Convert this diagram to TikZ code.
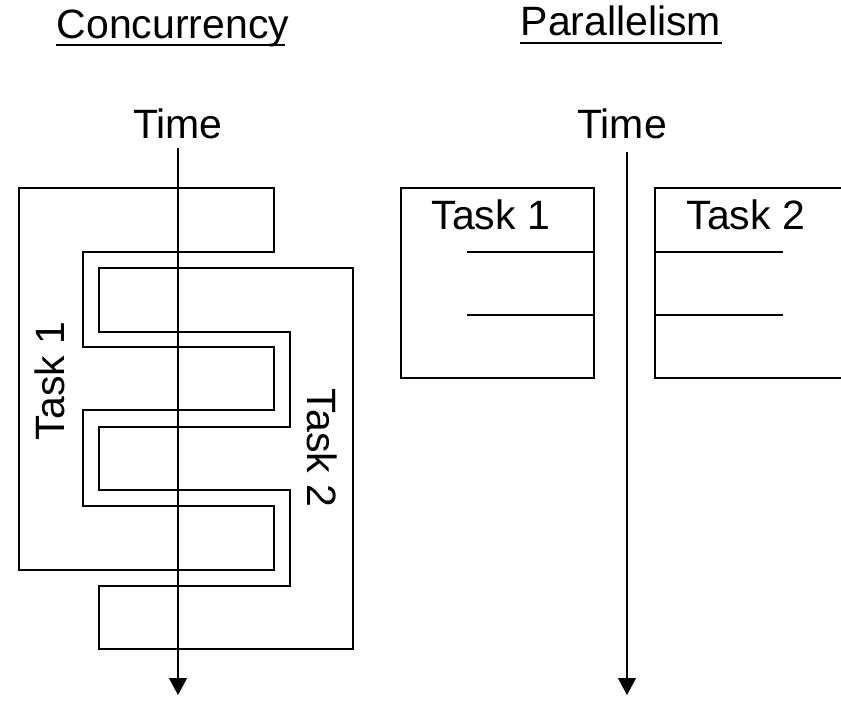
\documentclass[tikz,border=0pt]{standalone}
\usepackage{fontspec}
\setmainfont{Liberation Sans}
\usetikzlibrary{arrows.meta}
\begin{document}
\begin{tikzpicture}[x=1pt,y=-1pt,
  line width=1.3pt,
  lbl/.style={inner sep=0pt,font=\fontsize{41}{49}\selectfont},
  timeline/.style={-{Triangle[width=18pt,length=17pt]}},
  under/.style={line width=1.6pt}]
\useasboundingbox (0,0) rectangle (841,702);
\clip (0,0) rectangle (841,702);

% ---- Concurrency ----
\node[lbl,anchor=base west] (ctitle) at (56,38) {Concurrency};
\draw[under] (56,45) -- (285,45);
\node[lbl,anchor=base] (ctime) at (178,138) {Time};

% task 1: comb opening to the right
\draw (19,188) -- (274,188) -- (274,252) -- (83,252) -- (83,347) -- (274,347)
  -- (274,410) -- (83,410) -- (83,506) -- (274,506) -- (274,570) -- (19,570) -- cycle;
% task 2: comb opening to the left, interleaved with task 1
\draw (99,268) -- (353,268) -- (353,649) -- (99,649) -- (99,586) -- (290,586)
  -- (290,490) -- (99,490) -- (99,427) -- (290,427) -- (290,332) -- (99,332) -- cycle;

\node[lbl,rotate=90] (ct1) at (50,381) {Task 1};
\node[lbl,rotate=-90] (ct2) at (322,448) {Task 2};

\coordinate (cstart) at (178,148);
\coordinate (cend) at (178,695);
\draw[timeline] (cstart) -- (cend);

% ---- Parallelism ----
\node[lbl,anchor=base west] (ptitle) at (520,35) {Parallelism};
\draw[under] (520,43) -- (722,43);
\node[lbl,anchor=base] (ptime) at (622,138) {Time};

% task 1 box
\draw (401,188) rectangle (594,378);
\draw (467,252) -- (594,252);
\draw (467,315) -- (594,315);
\node[lbl,anchor=base west] (pt1) at (431,229) {Task 1};

% task 2 box (runs off the right edge)
\draw (655,188) rectangle (860,378);
\draw (655,252) -- (783,252);
\draw (655,315) -- (783,315);
\node[lbl,anchor=base west] (pt2) at (686,229) {Task 2};

\coordinate (pstart) at (627,152);
\coordinate (pend) at (627,695);
\draw[timeline] (pstart) -- (pend);
\end{tikzpicture}
\end{document}
